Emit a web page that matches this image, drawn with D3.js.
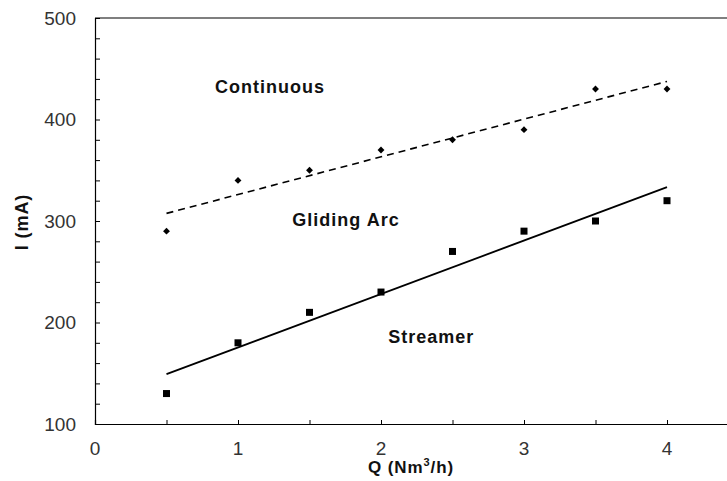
<!DOCTYPE html>
<html>
<head>
<meta charset="utf-8">
<script src="https://cdn.jsdelivr.net/npm/d3@7"></script>
<style>
  html, body { margin: 0; padding: 0; background: #fff; overflow: hidden; }
  svg { display: block; font-family: Arial, "Liberation Sans", sans-serif; }
</style>
</head>
<body>
<svg id="chart" width="727" height="481"></svg>
<script>
// Gas flow rate Q (Nm³/h) and discharge current I (mA) at the regime boundaries
const flowRates = [0.5, 1, 1.5, 2, 2.5, 3, 3.5, 4];
const continuousI = [290, 340, 350, 370, 380, 390, 430, 430];
const streamerI = [130, 180, 210, 230, 270, 290, 300, 320];
const xTicks = [0, 1, 2, 3, 4];
const yTicks = [100, 200, 300, 400, 500];
const regionLabels = [
  { text: "Continuous", q: 0.84, i: 432 },
  { text: "Gliding Arc", q: 1.38, i: 301 },
  { text: "Streamer", q: 2.05, i: 186 }
];

const svg = d3.select("#chart");
const x = d3.scaleLinear().domain([0, 4.5]).range([95, 738.5]);
const y = d3.scaleLinear().domain([100, 500]).range([424, 18]);

// Least-squares trend line over the measured points
function fit(xs, ys) {
  const mx = d3.mean(xs), my = d3.mean(ys);
  let sxy = 0, sxx = 0;
  xs.forEach((v, k) => { sxy += (v - mx) * (ys[k] - my); sxx += (v - mx) ** 2; });
  const b = sxy / sxx, a = my - b * mx;
  const ext = d3.extent(xs);
  return ext.map(v => [v, a + b * v]);
}

// Frame: top border
svg.append("line")
  .attr("x1", x(0)).attr("x2", x(4.5))
  .attr("y1", y(500)).attr("y2", y(500))
  .attr("stroke", "#000").attr("stroke-width", 1.2);

// Y axis with inward ticks every 20 mA
const yAxis = d3.axisRight(y)
  .tickValues(d3.range(100, 501, 20))
  .tickSize(5).tickFormat("");
const gy = svg.append("g").attr("transform", `translate(${x(0)},0)`).call(yAxis);
gy.select(".domain").attr("stroke", "#000").attr("stroke-width", 1.2);
gy.selectAll(".tick line").attr("stroke", "#000");

svg.append("g").selectAll("text").data(yTicks).join("text")
  .attr("x", x(0) - 19).attr("y", d => y(d))
  .attr("text-anchor", "end").attr("dominant-baseline", "central")
  .attr("font-size", 19).attr("fill", "#333")
  .text(d => d);

// X axis with inward ticks every 0.5
const xAxis = d3.axisTop(x)
  .tickValues(d3.range(0, 4.51, 0.5))
  .tickSize(4).tickFormat("");
const gx = svg.append("g").attr("transform", `translate(0,${y(100)})`).call(xAxis);
gx.select(".domain").attr("stroke", "#000").attr("stroke-width", 1.2);
gx.selectAll(".tick line").attr("stroke", "#000");

svg.append("g").selectAll("text").data(xTicks).join("text")
  .attr("x", d => x(d)).attr("y", y(100) + 24)
  .attr("text-anchor", "middle").attr("dominant-baseline", "central")
  .attr("font-size", 19).attr("fill", "#333")
  .text(d => d);

// Axis titles
const qt = svg.append("text")
  .attr("x", 411).attr("y", 473)
  .attr("text-anchor", "middle")
  .attr("font-size", 17).attr("font-weight", "bold").attr("fill", "#111")
  .attr("letter-spacing", 0.9);
qt.append("tspan").text("Q (Nm");
qt.append("tspan").attr("font-size", 11).attr("dy", -7).text("3");
qt.append("tspan").attr("dy", 7).text("/h)");

svg.append("text")
  .attr("transform", `translate(28,222) rotate(-90)`)
  .attr("text-anchor", "middle")
  .attr("font-size", 18).attr("font-weight", "bold").attr("fill", "#111")
  .attr("letter-spacing", 0.9)
  .text("I (mA)");

// Trend lines
const line = d3.line().x(d => x(d[0])).y(d => y(d[1]));
svg.append("path")
  .attr("d", line(fit(flowRates, continuousI)))
  .attr("fill", "none").attr("stroke", "#000").attr("stroke-width", 1.6)
  .attr("stroke-dasharray", "7,5");
svg.append("path")
  .attr("d", line(fit(flowRates, streamerI)))
  .attr("fill", "none").attr("stroke", "#000").attr("stroke-width", 1.8);

// Continuous boundary: diamond markers
svg.append("g").selectAll("path").data(flowRates).join("path")
  .attr("transform", (d, k) => `translate(${x(d)},${y(continuousI[k])})`)
  .attr("d", d3.symbol(d3.symbolDiamond2, 30)())
  .attr("fill", "#000");

// Streamer boundary: square markers
svg.append("g").selectAll("rect").data(flowRates).join("rect")
  .attr("x", d => x(d) - 3.5)
  .attr("y", (d, k) => y(streamerI[k]) - 3.5)
  .attr("width", 7).attr("height", 7)
  .attr("fill", "#000");

// Regime labels
svg.append("g").selectAll("text").data(regionLabels).join("text")
  .attr("x", d => x(d.q)).attr("y", d => y(d.i))
  .attr("dominant-baseline", "central")
  .attr("font-size", 18).attr("font-weight", "bold").attr("fill", "#111")
  .attr("letter-spacing", 1)
  .text(d => d.text);
</script>
</body>
</html>
